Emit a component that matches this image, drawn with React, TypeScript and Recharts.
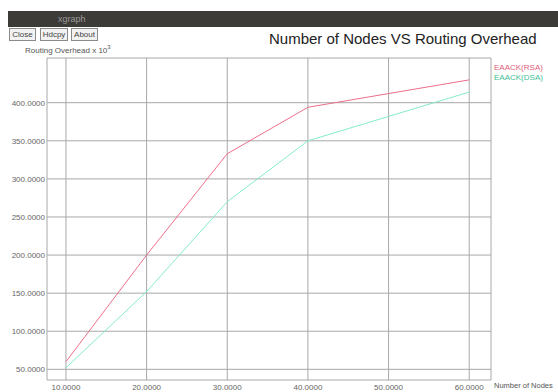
import React from 'react';
import { LineChart, Line, XAxis, YAxis, CartesianGrid } from 'recharts';

const nodes = [10, 20, 30, 40, 50, 60];
const rsaOverhead = [60, 200, 333, 394, 412, 430];
const dsaOverhead = [52, 152, 270, 350, 382, 414];
const xTicks = [10, 20, 30, 40, 50, 60];
const yTicks = [50, 100, 150, 200, 250, 300, 350, 400];
const seriesNames = ['EAACK(RSA)', 'EAACK(DSA)'];

const chartData = nodes.map((n, i) => ({
  nodes: n,
  rsa: rsaOverhead[i],
  dsa: dsaOverhead[i],
}));

const font = '"Liberation Sans", Arial, sans-serif';
const rsaColor = '#ec6f8a';
const dsaColor = '#86ecca';

const btn: React.CSSProperties = {
  position: 'absolute',
  top: 28,
  height: 11,
  border: '1px solid #8a8a8a',
  background: '#f2f2f2',
  fontSize: 8,
  lineHeight: '11px',
  textAlign: 'center',
  color: '#444',
};

export default function App() {
  return (
    <div
      style={{
        position: 'absolute',
        top: 0,
        left: 0,
        width: 558,
        height: 392,
        overflow: 'hidden',
        background: '#fff',
        fontFamily: font,
      }}
    >
      {/* window title bar */}
      <div style={{ position: 'absolute', top: 11, left: 8, width: 550, height: 16, background: '#3c3b37' }}>
        <span style={{ position: 'absolute', left: 50, top: 3, fontSize: 9, color: '#9a9a9a' }}>xgraph</span>
      </div>

      <div style={{ ...btn, left: 9, width: 25 }}>Close</div>
      <div style={{ ...btn, left: 40, width: 26 }}>Hdcpy</div>
      <div style={{ ...btn, left: 71, width: 25 }}>About</div>

      <div style={{ position: 'absolute', left: 25, top: 44, fontSize: 8, color: '#555' }}>
        Routing Overhead x 10<sup style={{ fontSize: 6 }}>3</sup>
      </div>

      <div style={{ position: 'absolute', left: 269, top: 30, fontSize: 15, color: '#222', whiteSpace: 'nowrap' }}>
        Number of Nodes VS Routing Overhead
      </div>

      <div style={{ position: 'absolute', left: 494, top: 381, fontSize: 7.5, color: '#555', whiteSpace: 'nowrap' }}>
        Number of Nodes
      </div>

      {/* legend */}
      <div style={{ position: 'absolute', left: 494, top: 63, fontSize: 8, lineHeight: '10px' }}>
        <div style={{ color: '#e0607c' }}>{seriesNames[0]}</div>
        <div style={{ color: '#3fbf98' }}>{seriesNames[1]}</div>
      </div>

      <div style={{ position: 'absolute', top: 0, left: 0 }}>
        <LineChart
          width={558}
          height={392}
          data={chartData}
          margin={{ top: 58, right: 67, bottom: 0, left: 7 }}
        >
          <CartesianGrid stroke="#a8a8a8" strokeWidth={1} />
          <XAxis
            dataKey="nodes"
            type="number"
            domain={[7.65, 62.7]}
            ticks={xTicks}
            tickFormatter={(v: number) => v.toFixed(4)}
            tick={{ fontSize: 8, fill: '#666', fontFamily: font }}
            axisLine={false}
            tickLine={false}
            tickSize={0}
            tickMargin={4}
            height={12}
            allowDataOverflow
          />
          <YAxis
            type="number"
            domain={[36, 458.7]}
            ticks={yTicks}
            tickFormatter={(v: number) => v.toFixed(4)}
            tick={{ fontSize: 8, fill: '#666', fontFamily: font }}
            axisLine={false}
            tickLine={false}
            tickSize={0}
            tickMargin={2}
            width={40}
            allowDataOverflow
          />
          <Line
            dataKey="rsa"
            name={seriesNames[0]}
            stroke={rsaColor}
            strokeWidth={1}
            dot={false}
            isAnimationActive={false}
            type="linear"
          />
          <Line
            dataKey="dsa"
            name={seriesNames[1]}
            stroke={dsaColor}
            strokeWidth={1}
            dot={false}
            isAnimationActive={false}
            type="linear"
          />
        </LineChart>
      </div>
    </div>
  );
}
